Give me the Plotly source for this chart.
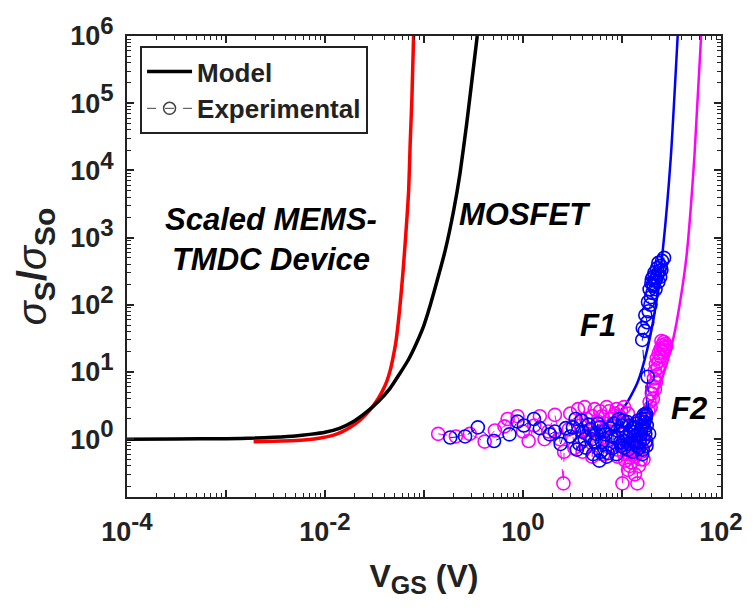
import plotly.graph_objects as go

# ---------------- data ----------------
# Model curves
mosfet_v = [1e-4, 3e-4, 1e-3, 2e-3, 3e-3, 5e-3, 7e-3, 0.01, 0.014, 0.019, 0.026, 0.035, 0.045, 0.057, 0.07, 0.085,
            0.1, 0.116, 0.14, 0.164, 0.2, 0.231, 0.27, 0.3, 0.345]
mosfet_y = [1.0, 1.005, 1.02, 1.04, 1.07, 1.12, 1.18, 1.27, 1.45, 1.8, 2.5, 3.7, 5.6, 9.5, 15.5, 28,
            50, 100, 270, 650, 2600, 9000, 5e4, 1.8e5, 1e6]

mems_v = [0.0019, 0.003, 0.0045, 0.0065, 0.009, 0.012, 0.015, 0.0185, 0.022, 0.026, 0.030, 0.034, 0.038, 0.042,
          0.0455, 0.0485, 0.052, 0.055, 0.058, 0.061, 0.064, 0.067, 0.070, 0.0725, 0.0755, 0.0785]
mems_y = [0.92, 0.93, 0.95, 0.98, 1.04, 1.14, 1.3, 1.55, 1.85, 2.35, 3.0, 3.9, 5.2, 7.2,
          10.5, 16, 28, 55, 120, 280, 700, 1800, 5000, 2.5e4, 1.2e5, 1e6]

f1_v = [3.0, 4.0, 7.2, 10.8, 14.3, 17.9, 22.0, 25.9, 31.1, 36.5]
f1_y = [1.2, 1.3, 1.8, 3.2, 6.9, 21, 100, 680, 1.55e4, 1e6]

f2_v = [3.5, 6.4, 13.6, 20.1, 26.5, 33.3, 38.2, 44.9, 53.8, 63.0]
f2_y = [1.1, 1.22, 1.8, 3.6, 9.7, 33.6, 100, 540, 1.55e4, 1e6]

# Experimental data (F1, blue)
f1_exp_v = [0.184, 0.26, 0.35, 0.51, 0.73, 0.88, 1.02, 1.29, 1.48, 1.87, 2.1, 2.4, 2.7, 3.0, 3.2, 3.4, 3.5, 3.7,
            3.9, 4.0, 4.2, 4.3, 4.6, 4.8, 5.0, 5.1, 5.3, 5.5, 5.7, 5.9, 6.0, 6.1, 6.3, 6.6, 6.8, 7.0, 7.2, 7.6,
            7.8, 8.0, 8.3, 8.6, 8.8, 9.0, 9.3, 9.6, 9.8, 10.0, 10.2, 10.3, 10.5, 10.8, 11.0, 11.3, 11.5, 11.8,
            12.0, 12.3, 12.7, 12.9, 13.3, 13.4, 13.8, 13.9, 14.0, 14.3, 14.6, 14.9, 15.1, 15.5, 15.6, 15.9,
            16.0, 16.2, 16.5, 16.6, 16.8, 17.0, 17.2, 17.3, 17.4, 17.6, 17.7, 17.8, 17.5, 18.2, 18.8,
            16.0, 17.0, 16.2, 18.0, 17.2, 18.6, 19.4, 18.3, 19.6, 20.3, 19.0, 20.8, 19.8, 21.6, 22.3, 20.6,
            22.8, 21.3, 23.8, 22.6, 24.6, 23.3, 25.4, 26.6, 21.8, 23.3, 24.3, 20.8, 25.0, 20.0]
f1_exp_y = [1.06, 1.1, 1.5, 0.94, 1.18, 1.83, 1.6, 2.0, 1.46, 1.18, 1.3, 0.85, 1.46, 1.1, 1.5, 2.0, 0.7, 0.85,
            1.9, 1.3, 1.0, 0.75, 1.65, 1.4, 1.0, 0.6, 0.9, 1.2, 1.7, 0.48, 1.5, 0.65, 0.9, 1.3, 1.18, 0.55, 0.62, 1.45,
            1.1, 0.74, 1.7, 1.05, 0.6, 1.35, 2.0, 0.9, 0.8, 1.6, 1.9, 1.25, 0.75, 0.94, 1.1, 1.8, 0.7, 0.85,
            1.6, 1.3, 1.46, 0.65, 0.9, 1.5, 1.15, 0.95, 1.7, 0.8, 1.9, 0.74, 0.9, 1.2, 1.4, 2.0,
            0.6, 0.7, 1.0, 2.3, 1.8, 1.4, 1.2, 2.0, 2.2, 0.94, 0.8, 1.6, 2.4, 8.5, 1.2,
            30, 41, 45, 55, 70, 80, 100, 110, 130, 150, 170, 190, 210, 230, 250, 260,
            280, 300, 320, 350, 380, 420, 450, 500, 170, 220, 260, 200, 330, 240]

# Experimental data (F2, magenta)
f2_exp_v = [0.139, 0.21, 0.29, 0.41, 0.52, 0.65, 0.70, 0.88, 1.0, 1.14, 1.3, 1.48, 1.65, 1.8, 2.1, 2.35, 2.56, 2.6,
            2.9, 3.0, 3.3, 3.6, 3.8, 4.0, 4.2, 4.4, 4.6, 5.0, 5.0, 5.3, 5.5, 5.8, 6.0, 6.3, 6.5, 6.6, 7.0, 7.4,
            7.5, 7.8, 8.0, 8.5, 8.8, 9.0, 9.0, 9.5, 9.8, 10.1, 10.5, 10.5, 10.8, 11.0, 11.3, 11.5, 11.5, 12.0,
            12.0, 12.5, 12.5, 13.0, 13.0, 13.5, 13.5, 14.0, 14.3, 14.5, 14.8, 15.0, 15.5, 15.8, 16.0, 16.0,
            16.5, 16.5, 17.0, 17.2, 17.5, 18.5, 19.5, 19.0, 20.5, 20.0, 21.5, 20.5, 22.0, 21.0, 22.5, 21.5,
            23.0, 22.0, 23.5, 22.5, 24.5, 23.5, 25.5, 24.5, 26.5, 25.5, 27.5, 26.5, 25.0, 28.0, 27.0]
f2_exp_y = [1.2, 1.1, 1.2, 0.92, 1.35, 1.55, 2.0, 2.2, 1.3, 0.94, 1.6, 2.2, 1.0, 1.3, 2.3, 1.0, 0.22, 0.65,
            1.4, 2.4, 0.74, 2.8, 1.6, 0.65, 3.0, 2.0, 1.2, 2.2, 0.55, 2.8, 0.9, 1.8, 2.6, 2.2, 0.6, 1.4, 3.0, 2.6,
            0.75, 2.0, 1.0, 2.4, 2.8, 0.7, 0.55, 2.2, 2.6, 0.22, 3.0, 0.6, 0.48, 0.7, 0.62, 2.4, 0.35, 0.4,
            0.85, 0.9, 0.45, 0.6, 1.1, 0.3, 0.55, 0.8, 0.22, 0.75, 0.4, 1.2, 0.5, 0.65, 1.6, 1.1,
            1.0, 0.5, 2.0, 0.9, 2.2, 2.6, 3.0, 3.6, 4.0, 4.8, 5.5, 6.2, 7.0, 8.0, 9.0, 10.5,
            11.5, 13, 14.5, 16, 17, 19, 20, 22, 23, 25, 26, 28, 29, 24, 21]

SUP = "<sup><span style='font-size:24px'>%s</span></sup>"
x_tickvals = [1e-4, 1e-3, 1e-2, 1e-1, 1e0, 1e1, 1e2]
x_ticktext = ["<b>10" + SUP % "-4" + "</b>", "", "<b>10" + SUP % "-2" + "</b>", "",
              "<b>10" + SUP % "0" + "</b>", "", "<b>10" + SUP % "2" + "</b>"]
y_tickvals = [1e0, 1e1, 1e2, 1e3, 1e4, 1e5, 1e6]
y_ticktext = ["<b>10" + SUP % str(i) + "</b>" for i in range(7)]
x_minor = [m * 10.0 ** e for e in range(-4, 2) for m in range(2, 10)]
y_minor = [m * 10.0 ** e for e in range(-1, 6) for m in range(2, 10)]

FONT = "Liberation Sans, Arial, sans-serif"
BLUE = "#0000ff"
MAG = "#ff00ff"

fig = go.Figure()

# models (drawn beneath the experimental points)
fig.add_trace(go.Scatter(x=f2_v, y=f2_y, mode="lines", showlegend=False,
                         line=dict(color=MAG, width=2.5, shape="spline", smoothing=0.6)))
fig.add_trace(go.Scatter(x=f1_v, y=f1_y, mode="lines", showlegend=False,
                         line=dict(color=BLUE, width=2.5, shape="spline", smoothing=0.6)))
fig.add_trace(go.Scatter(x=mems_v, y=mems_y, mode="lines", showlegend=False,
                         line=dict(color="#ff0000", width=3.5, shape="spline", smoothing=0.5)))
fig.add_trace(go.Scatter(x=mosfet_v, y=mosfet_y, mode="lines", showlegend=False,
                         line=dict(color="black", width=3.5, shape="spline", smoothing=0.5)))

# experimental data
fig.add_trace(go.Scatter(x=f2_exp_v, y=f2_exp_y, mode="lines+markers", showlegend=False,
                         line=dict(color=MAG, width=1, dash="dash"),
                         marker=dict(symbol="circle-open", size=13, color=MAG, line=dict(width=1.6, color=MAG))))
fig.add_trace(go.Scatter(x=f1_exp_v, y=f1_exp_y, mode="lines+markers", showlegend=False,
                         line=dict(color=BLUE, width=1, dash="dash"),
                         marker=dict(symbol="circle-open", size=13, color=BLUE, line=dict(width=1.6, color=BLUE))))

# legend entries
fig.add_trace(go.Scatter(x=[None], y=[None], mode="lines", name="<b>Model</b>",
                         line=dict(color="black", width=3.5)))
fig.add_trace(go.Scatter(x=[None], y=[None], mode="lines+markers", name="<b>Experimental</b>",
                         line=dict(color="#444", width=1, dash="dash"),
                         marker=dict(symbol="circle-open", size=12, color="#444", line=dict(width=1.5, color="#444"))))

ann_font = dict(family=FONT, size=31, color="black")
fig.add_annotation(x=-2.55, y=2.97, xref="x", yref="y", text="<b><i>Scaled MEMS-<br>TMDC Device</i></b>",
                   showarrow=False, font=ann_font, align="center")
fig.add_annotation(x=0.02, y=3.34, xref="x", yref="y", text="<b><i>MOSFET</i></b>",
                   showarrow=False, font=ann_font, xanchor="center")
fig.add_annotation(x=0.76, y=1.69, xref="x", yref="y", text="<b><i>F1</i></b>",
                   showarrow=False, font=ann_font)
fig.add_annotation(x=1.68, y=0.45, xref="x", yref="y", text="<b><i>F2</i></b>",
                   showarrow=False, font=ann_font)

tickfont = dict(family=FONT, size=27, color="#222")

fig.update_xaxes(type="log", range=[-4, 2], tickmode="array", tickvals=x_tickvals, ticktext=x_ticktext,
                 showline=True, linecolor="#222", linewidth=2, mirror="ticks", ticks="inside",
                 ticklen=7, tickwidth=1.5, tickcolor="#222", showgrid=False, zeroline=False,
                 tickfont=tickfont, ticklabelstandoff=10,
                 minor=dict(tickmode="array", tickvals=x_minor, ticks="inside", ticklen=4, tickwidth=1,
                            tickcolor="#222", showgrid=False),
                 title=dict(text="<b>V<sub><span style='font-size:25px'>GS</span></sub> (V)</b>",
                            font=dict(family=FONT, size=32, color="#222"), standoff=18))
fig.update_yaxes(type="log", range=[-0.86, 6], tickmode="array", tickvals=y_tickvals, ticktext=y_ticktext,
                 showline=True, linecolor="#222", linewidth=2, mirror="ticks", ticks="inside",
                 ticklen=7, tickwidth=1.5, tickcolor="#222", showgrid=False, zeroline=False,
                 tickfont=tickfont, ticklabelstandoff=6,
                 minor=dict(tickmode="array", tickvals=y_minor, ticks="inside", ticklen=4, tickwidth=1,
                            tickcolor="#222", showgrid=False),
                 title=dict(text="<i>σ</i><b><sub><span style='font-size:30px'>S</span></sub></b><b>/</b>"
                                 "<i>σ</i><b><sub><span style='font-size:30px'>So</span></sub></b>",
                            font=dict(family=FONT, size=40, color="#222"), standoff=11))

fig.update_layout(
    width=755, height=612,
    margin=dict(l=127, r=25, t=25, b=115),
    paper_bgcolor="white", plot_bgcolor="white",
    font=dict(family=FONT, color="#222"),
    legend=dict(x=0.022, y=0.978, xanchor="left", yanchor="top", bgcolor="white",
                bordercolor="#222", borderwidth=2, font=dict(family=FONT, size=26, color="#222"),
                itemwidth=45, tracegroupgap=0),
)

fig.write_html("out.html")
